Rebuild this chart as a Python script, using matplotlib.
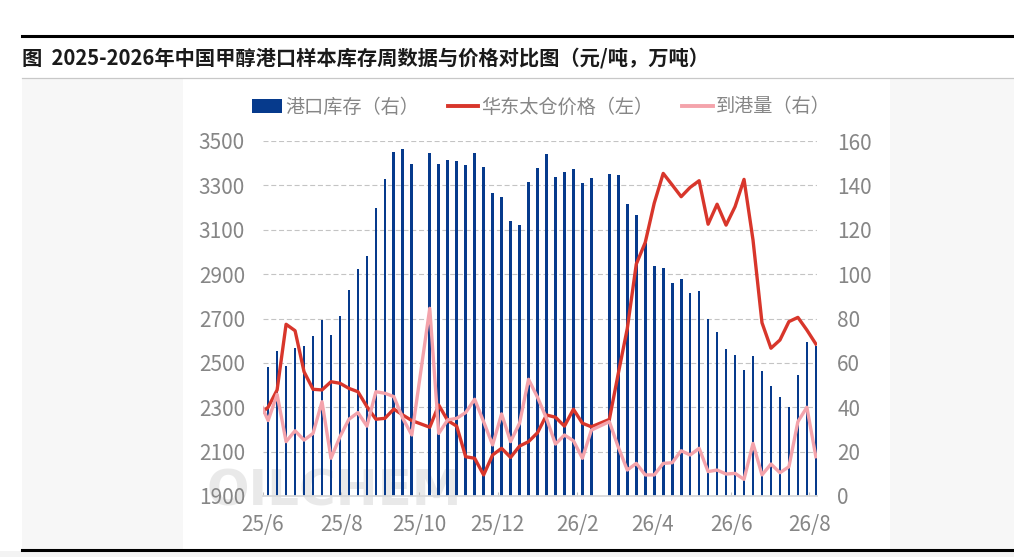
import numpy as np
import pandas as pd
import matplotlib
matplotlib.use("Agg")
import matplotlib.pyplot as plt
from matplotlib.patches import Rectangle, Patch
from matplotlib.lines import Line2D
from matplotlib.ticker import FixedLocator, FixedFormatter
import matplotlib.dates as mdates

plt.rcParams['font.family'] = ['Noto Sans CJK SC', 'DejaVu Sans']

# ---------------- data ----------------
all_weeks = pd.date_range('2025-05-29', '2026-08-06', freq='7D')
holiday_weeks = pd.to_datetime(['2025-10-02', '2026-02-19'])
weeks = all_weeks[~all_weeks.isin(holiday_weeks)]

# 港口库存（右） 万吨
inventory = [np.nan, 58.0, 65.4, 58.4, 66.9, 67.5, 72.0, 79.3, 72.6, 81.0, 92.8, 102.3,
             108.0, 130.0, 142.9, 155.2, 156.2, 149.6,
             154.7, 149.6, 151.3, 150.8, 149.0, 154.7, 148.4, 136.7, 134.9, 123.8, 122.0,
             141.7, 147.8, 154.0, 143.9, 146.2, 147.2, 141.2, 143.3,
             145.1, 144.5, 131.6, 126.5, 113.9, 103.5, 102.9, 96.2, 97.7, 91.6, 92.2, 79.8,
             73.8, 66.3, 63.4, 56.8, 63.0, 56.2, 49.4, 44.5, 40.0, 54.5, 69.3, 67.8]

# 华东太仓价格（左） 元/吨
price = [2265, 2300, 2378, 2674, 2645, 2460, 2381, 2378, 2415, 2408, 2385, 2370, 2303,
         2246, 2250, 2292, 2265, 2240,
         2210, 2310, 2240, 2215, 2077, 2070, 1995, 2085, 2115, 2074, 2125, 2145, 2185,
         2265, 2255, 2215, 2291, 2228, 2212,
         2245, 2453, 2655, 2945, 3043, 3220, 3354, 3302, 3249, 3291, 3321, 3125, 3215,
         3121, 3204, 3327, 3054, 2681, 2566, 2603, 2686, 2705, 2648, 2585]

# 到港量（右） 万吨
arrivals = [43.0, 34.0, 45.8, 24.5, 29.4, 25.2, 28.2, 42.5, 17.0, 26.7, 34.6, 37.6, 31.5,
            47.0, 46.3, 44.8, 35.0, 27.5,
            84.6, 28.2, 34.3, 35.0, 37.6, 43.6, 33.5, 23.0, 37.0, 24.5, 32.8, 52.6, 44.5,
            35.0, 23.4, 27.5, 24.9, 17.0, 29.7,
            33.5, 22.0, 11.7, 14.7, 9.5, 9.5, 14.7, 15.0, 20.4, 18.5, 21.5, 11.0, 11.7,
            9.9, 10.2, 7.5, 23.7, 9.5, 14.4, 10.5, 13.2, 33.5, 40.0, 17.7]

x_tick_dates = pd.to_datetime(['2025-06-01', '2025-08-01', '2025-10-01', '2025-12-01',
                               '2026-02-01', '2026-04-01', '2026-06-01', '2026-08-01'])
x_tick_labels = ['25/6', '25/8', '25/10', '25/12', '26/2', '26/4', '26/6', '26/8']
left_ticks = [1900, 2100, 2300, 2500, 2700, 2900, 3100, 3300, 3500]
right_ticks = [0, 20, 40, 60, 80, 100, 120, 140, 160]

title = '图  2025-2026年中国甲醇港口样本库存周数据与价格对比图（元/吨，万吨）'
legend_labels = ['港口库存（右）', '华东太仓价格（左）', '到港量（右）']

# ---------------- styles ----------------
W, H = 1014, 557
BAR_C = '#063a8c'
RED_C = '#d8362b'
PINK_C = '#f4a3ab'
TXT_C = '#868686'
GRID_C = '#c4c4c4'
TICK_FS = 15

fig = plt.figure(figsize=(W / 100, H / 100), dpi=100)
fig.patch.set_facecolor('white')

def fx(px):
    return px / W

def fy(py):
    return 1 - py / H

# background panels
for (x0, y0, x1, y1, c) in [(22, 78, 183, 549, '#f7f7f7'),
                            (890, 78, 1014, 549, '#f7f7f7'),
                            (0, 551, 1014, 557, '#f3f3f3')]:
    fig.patches.append(Rectangle((fx(x0), fy(y1)), fx(x1) - fx(x0), fy(y0) - fy(y1),
                                 transform=fig.transFigure, facecolor=c, edgecolor='none',
                                 zorder=-10))
# rules
fig.add_artist(Line2D([fx(22), 1], [fy(35.5), fy(35.5)], transform=fig.transFigure,
                      color='black', lw=2.2))
fig.add_artist(Line2D([fx(22), 1], [fy(77.5), fy(77.5)], transform=fig.transFigure,
                      color='#c8c8c8', lw=0.9))
fig.add_artist(Line2D([fx(22), 1], [fy(550), fy(550)], transform=fig.transFigure,
                      color='black', lw=2.2))

fig.text(fx(22), fy(58), title, fontsize=14.6, fontweight='bold', color='#1a1a1a',
         ha='left', va='center')

rect = [fx(263), fy(496), fx(816.5) - fx(263), fy(141) - fy(496)]

# bars axis (right scale)
ax_b = fig.add_axes(rect)
ax_b.patch.set_visible(False)
ax_b.bar(weeks, inventory, width=2.1, color=BAR_C, zorder=2)
ax_b.set_ylim(0, 160)
ax_b.set_xlim(pd.Timestamp('2025-06-01'), pd.Timestamp('2026-08-06 12:00'))
ax_b.set_axisbelow(True)
ax_b.yaxis.grid(True, color=GRID_C, lw=0.8, linestyle=(0, (4.5, 2.5)))
for s in ['top', 'left', 'right']:
    ax_b.spines[s].set_visible(False)
ax_b.spines['bottom'].set_color('#d9d9d9')
ax_b.spines['bottom'].set_linewidth(1.3)
ax_b.spines['bottom'].set_zorder(3)
ax_b.xaxis.set_major_locator(FixedLocator(mdates.date2num(x_tick_dates)))
ax_b.xaxis.set_major_formatter(FixedFormatter(x_tick_labels))
ax_b.tick_params(axis='x', direction='in', length=3, color='#c0c0c0', width=0.8,
                 pad=13, labelsize=TICK_FS, labelcolor=TXT_C)

ax_b.text(fx(334), fy(491), 'OILCHEM', transform=fig.transFigure, fontsize=36,
          fontweight='bold', family='DejaVu Sans', color='#cfcfcf', alpha=0.45,
          ha='center', va='center', zorder=0.3, clip_on=False)

# price axis (left scale)
ax_r = ax_b.twinx()
ax_r.patch.set_visible(False)
ax_r.plot(weeks, price, color=RED_C, lw=2.4, zorder=3)
ax_r.set_ylim(1900, 3500)
for s in ax_r.spines.values():
    s.set_visible(False)

# arrivals axis (right scale, hidden)
ax_p = ax_b.twinx()
ax_p.patch.set_visible(False)
ax_p.plot(weeks, arrivals, color=PINK_C, lw=2.4, zorder=3)
ax_p.set_ylim(0, 160)
ax_p.set_yticks([])
ax_p.tick_params(axis='y', which='both', left=False, right=False,
                 labelleft=False, labelright=False)
for s in ax_p.spines.values():
    s.set_visible(False)
ax_p.set_xlim(ax_b.get_xlim())

# tick sides (set after twinning)
ax_b.yaxis.set_major_locator(FixedLocator(right_ticks))
ax_b.tick_params(axis='y', left=False, right=False, labelleft=False, labelright=True,
                 length=0, pad=15, labelsize=TICK_FS, labelcolor=TXT_C)
ax_r.yaxis.set_major_locator(FixedLocator(left_ticks))
ax_r.tick_params(axis='y', left=False, right=False, labelleft=True, labelright=False,
                 length=0, pad=13, labelsize=TICK_FS, labelcolor=TXT_C)

handles = [Patch(facecolor=BAR_C, edgecolor='none'),
           Line2D([], [], color=RED_C, lw=2.8),
           Line2D([], [], color=PINK_C, lw=2.8)]
fig.legend(handles, legend_labels, loc='center', bbox_to_anchor=(fx(541), fy(107)),
           bbox_transform=fig.transFigure, ncol=3, frameon=False, fontsize=13.8,
           handlelength=1.6, handleheight=0.7, handletextpad=0.15, columnspacing=1.5,
           labelcolor=TXT_C)

fig.savefig('out.png', dpi=100)
